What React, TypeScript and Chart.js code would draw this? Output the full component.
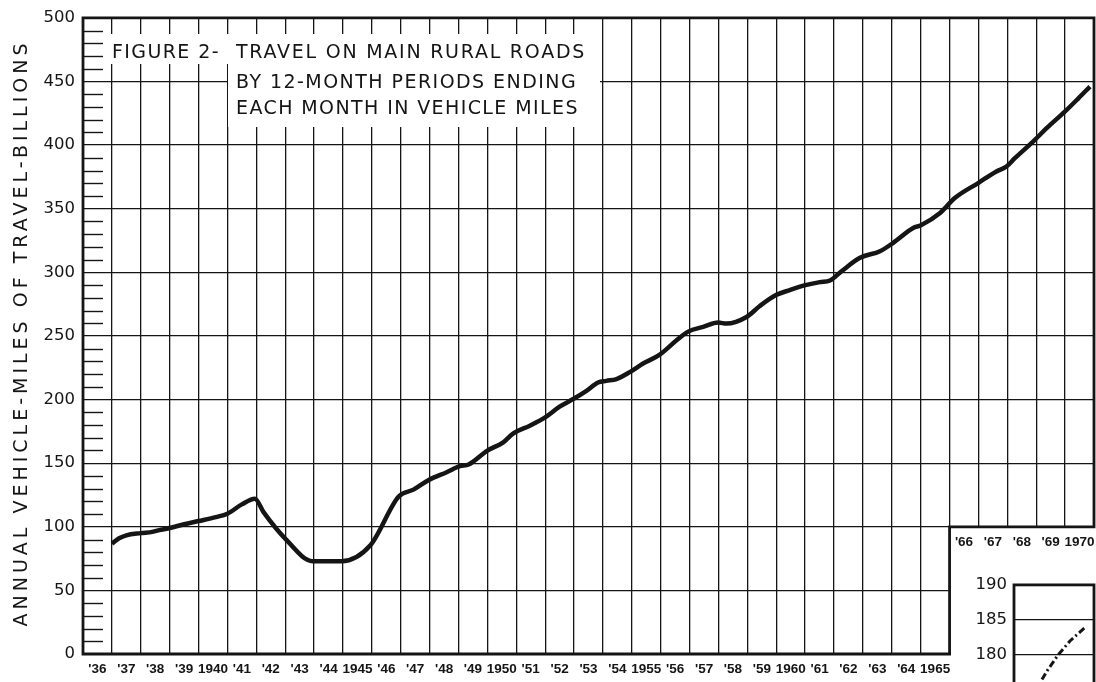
import React, { useEffect, useRef } from 'react';
import { Chart, registerables } from 'chart.js';

Chart.register(...registerables);

// 12-month period ending (decimal year) and annual vehicle-miles (billions)
const periods = [
  1937.0, 1937.25, 1937.5, 1938.0, 1938.4, 1938.7, 1939.0, 1939.5, 1940.0, 1940.6,
  1941.0, 1941.5, 1941.95, 1942.25, 1943.0, 1943.95, 1944.95, 1945.95, 1946.93, 1947.44,
  1947.97, 1948.59, 1949.05, 1949.35, 1950.0, 1950.55, 1950.9, 1951.47, 1952.0, 1952.5,
  1952.97, 1953.43, 1953.83, 1954.12, 1954.47, 1954.96, 1955.39, 1955.94, 1956.55, 1956.95,
  1957.47, 1957.99, 1958.28, 1958.97, 1959.43, 1959.99, 1960.47, 1960.97, 1961.51, 1961.86,
  1962.26, 1962.9, 1963.59, 1964.05, 1964.74, 1965.01, 1965.67, 1966.18, 1966.99, 1967.62,
  1967.97, 1968.26, 1968.89, 1969.36, 1969.99, 1970.46, 1970.86,
];
const travel = [
  86.8, 91.0, 93.3, 95.0, 96.0, 97.7, 99.0, 102.0, 104.5, 107.6,
  110.3, 117.6, 122.0, 111.5, 90.7, 73.0, 73.0, 85.5, 123.8, 129.2,
  136.8, 142.9, 147.6, 148.9, 159.9, 166.4, 173.5, 179.5, 186.0, 194.4,
  200.4, 206.9, 213.4, 214.7, 216.1, 222.0, 228.3, 234.9, 246.6, 253.4,
  257.1, 260.5, 259.7, 264.9, 273.5, 282.1, 286.1, 289.7, 292.3, 293.6,
  300.9, 311.4, 316.6, 323.2, 334.9, 337.0, 346.6, 358.4, 370.2, 379.3,
  383.2, 389.7, 402.8, 413.3, 426.3, 436.8, 446.0,
];

const firstYear = 1936;
const mainYearLabels = [
  "'36", "'37", "'38", "'39", '1940', "'41", "'42", "'43", "'44", '1945',
  "'46", "'47", "'48", "'49", '1950', "'51", "'52", "'53", "'54", '1955',
  "'56", "'57", "'58", "'59", '1960', "'61", "'62", "'63", "'64", '1965',
];
const lateYearLabels = ["'66", "'67", "'68", "'69", '1970'];
const yTickValues = [0, 50, 100, 150, 200, 250, 300, 350, 400, 450, 500];

// inset (enlarged scale)
const insetX = [4.2, 5.0, 6.6, 8.4, 10.6];
const insetY = [176.5, 177.8, 180.0, 182.0, 183.9];
const insetTicks = [175, 180, 185, 190];

const titleLines = [
  'FIGURE 2-',
  'TRAVEL ON MAIN RURAL ROADS',
  'BY 12-MONTH PERIODS ENDING',
  'EACH MONTH IN VEHICLE MILES',
];
const yTitle = 'ANNUAL VEHICLE-MILES OF TRAVEL-BILLIONS';

const INK = '#151515';
const lastYear = firstYear + mainYearLabels.length + lateYearLabels.length; // 1971
const splitYear = firstYear + mainYearLabels.length; // 1966

const framePlugin = {
  id: 'frame',
  beforeDatasetsDraw(chart: any) {
    const { ctx, chartArea: a, scales } = chart;
    const x = scales.x;
    const y = scales.y;
    const xs = x.getPixelForValue(splitYear);
    const y100 = y.getPixelForValue(100);
    ctx.save();
    ctx.fillStyle = '#ffffff';
    ctx.fillRect(xs + 1, y100 + 1, a.right - xs + 10, chart.height - y100);
    ctx.strokeStyle = INK;
    ctx.lineWidth = 1.4;
    for (let v = 10; v < 500; v += 10) {
      if (v % 50 === 0) continue;
      const py = Math.round(y.getPixelForValue(v)) + 0.5;
      ctx.beginPath();
      ctx.moveTo(a.left, py);
      ctx.lineTo(a.left + 20, py);
      ctx.stroke();
    }
    ctx.lineWidth = 2.8;
    ctx.beginPath();
    ctx.moveTo(a.left, a.top);
    ctx.lineTo(a.right, a.top);
    ctx.lineTo(a.right, y100);
    ctx.lineTo(xs, y100);
    ctx.lineTo(xs, a.bottom);
    ctx.lineTo(a.left, a.bottom);
    ctx.closePath();
    ctx.stroke();
    ctx.restore();
  },
};

const boxPlugin = {
  id: 'box',
  afterDatasetsDraw(chart: any) {
    const { ctx, chartArea: a } = chart;
    ctx.save();
    ctx.strokeStyle = INK;
    ctx.lineWidth = 2.8;
    ctx.strokeRect(a.left, a.top, a.right - a.left, a.bottom - a.top + 10);
    ctx.restore();
  },
};

const tickFont = { family: "'DejaVu Sans', sans-serif", size: 16.5 };
const yearFont = {
  family: "'Liberation Sans', Arial, sans-serif",
  size: 13.5,
  weight: 'bold' as const,
};

const noPad = (s: any) => {
  s.paddingLeft = 0;
  s.paddingRight = 0;
};

export default function App() {
  const mainRef = useRef<HTMLCanvasElement>(null);
  const insetRef = useRef<HTMLCanvasElement>(null);

  useEffect(() => {
    const mainTicks: number[] = [];
    for (let yr = firstYear; yr <= lastYear; yr++) mainTicks.push(yr);
    mainYearLabels.forEach((_, i) => mainTicks.push(firstYear + i + 0.5));
    mainTicks.sort((a, b) => a - b);
    const lateTicks = lateYearLabels.map((_, i) => splitYear + i + 0.5);

    const main = new Chart(mainRef.current as HTMLCanvasElement, {
      type: 'line',
      data: {
        datasets: [
          {
            data: periods.map((p, i) => ({ x: p, y: travel[i] })),
            borderColor: INK,
            borderWidth: 4.5,
            pointRadius: 0,
            cubicInterpolationMode: 'monotone',
            fill: false,
          },
        ],
      },
      options: {
        responsive: false,
        animation: false,
        layout: { padding: { left: 0, top: 16, right: 2, bottom: 0 } },
        plugins: { legend: { display: false }, tooltip: { enabled: false }, title: { display: false } },
        scales: {
          x: {
            type: 'linear',
            min: firstYear,
            max: lastYear,
            afterBuildTicks: (s: any) => {
              s.ticks = mainTicks.map((v) => ({ value: v }));
            },
            afterFit: (s: any) => {
              s.height = 28;
              noPad(s);
            },
            ticks: {
              autoSkip: false,
              maxRotation: 0,
              minRotation: 0,
              padding: 7,
              color: INK,
              font: yearFont,
              callback: (v: any) => {
                const idx = Number(v) - 0.5 - firstYear;
                if (!Number.isInteger(idx)) return '';
                return mainYearLabels[idx] ?? '';
              },
            },
            grid: {
              drawTicks: false,
              color: (c: any) => (c.tick && Number.isInteger(c.tick.value) ? INK : 'rgba(0,0,0,0)'),
              lineWidth: 1.3,
            },
            border: { display: false },
          },
          x2: {
            type: 'linear',
            axis: 'x',
            position: { y: 100 } as any,
            min: firstYear,
            max: lastYear,
            afterBuildTicks: (s: any) => {
              s.ticks = lateTicks.map((v) => ({ value: v }));
            },
            afterFit: noPad,
            ticks: {
              autoSkip: false,
              maxRotation: 0,
              minRotation: 0,
              padding: 7,
              color: INK,
              font: yearFont,
              z: 1,
              callback: (v: any) => {
                const idx = Number(v) - 0.5 - splitYear;
                return Number.isInteger(idx) ? lateYearLabels[idx] ?? '' : '';
              },
            },
            grid: { display: false, drawTicks: false },
            border: { display: false },
          },
          y: {
            type: 'linear',
            min: 0,
            max: 500,
            afterBuildTicks: (s: any) => {
              s.ticks = yTickValues.map((v) => ({ value: v }));
            },
            afterFit: (s: any) => {
              s.width = 83;
            },
            ticks: { padding: 8, color: INK, font: tickFont },
            grid: { drawTicks: false, color: INK, lineWidth: 1.3 },
            border: { display: false },
          },
        },
      } as any,
      plugins: [framePlugin],
    });

    const inset = new Chart(insetRef.current as HTMLCanvasElement, {
      type: 'line',
      data: {
        datasets: [
          {
            data: insetX.map((v, i) => ({ x: v, y: insetY[i] })),
            borderColor: INK,
            borderWidth: 3,
            borderDash: [7, 3, 2, 3],
            pointRadius: 0,
            fill: false,
          },
        ],
      },
      options: {
        responsive: false,
        animation: false,
        layout: { padding: { left: 0, top: 16, right: 2, bottom: 0 } },
        plugins: { legend: { display: false }, tooltip: { enabled: false } },
        scales: {
          x: { type: 'linear', min: 0, max: 12, display: false },
          y: {
            type: 'linear',
            min: 172,
            max: 190,
            afterBuildTicks: (s: any) => {
              s.ticks = insetTicks.map((v) => ({ value: v }));
            },
            afterFit: (s: any) => {
              s.width = 58;
            },
            ticks: { padding: 7, color: INK, font: tickFont },
            grid: { drawTicks: false, color: INK, lineWidth: 1.3 },
            border: { display: false },
          },
        },
      } as any,
      plugins: [boxPlugin],
    });

    return () => {
      main.destroy();
      inset.destroy();
    };
  }, []);

  const titleFont: React.CSSProperties = {
    fontFamily: "'DejaVu Sans', sans-serif",
    fontSize: 19,
    color: INK,
    whiteSpace: 'nowrap',
    position: 'absolute',
    lineHeight: '20px',
  };

  return (
    <div
      style={{
        position: 'absolute',
        left: 0,
        top: 0,
        width: 1096,
        height: 682,
        overflow: 'hidden',
        background: '#fff',
      }}
    >
      <canvas ref={mainRef} width={1096} height={682} style={{ position: 'absolute', left: 0, top: 0 }} />
      <canvas ref={insetRef} width={140} height={160} style={{ position: 'absolute', left: 956, top: 568 }} />
      <div style={{ position: 'absolute', left: 104, top: 34, width: 496, height: 30, background: '#fff' }} />
      <div style={{ position: 'absolute', left: 228, top: 64, width: 372, height: 63, background: '#fff' }} />
      <div style={{ ...titleFont, left: 112, top: 41, letterSpacing: '1.4px' }}>{titleLines[0]}</div>
      <div style={{ ...titleFont, left: 236, top: 41, letterSpacing: '1.75px' }}>{titleLines[1]}</div>
      <div style={{ ...titleFont, left: 236, top: 71, letterSpacing: '1.45px' }}>{titleLines[2]}</div>
      <div style={{ ...titleFont, left: 236, top: 97, letterSpacing: '1.4px' }}>{titleLines[3]}</div>
      <div
        style={{
          position: 'absolute',
          left: 20 - 320,
          top: 333 - 12,
          width: 640,
          height: 24,
          lineHeight: '24px',
          textAlign: 'center',
          transform: 'rotate(-90deg)',
          fontFamily: "'DejaVu Sans', sans-serif",
          fontSize: 19,
          letterSpacing: '4px',
          color: INK,
          whiteSpace: 'nowrap',
        }}
      >
        {yTitle}
      </div>
    </div>
  );
}
